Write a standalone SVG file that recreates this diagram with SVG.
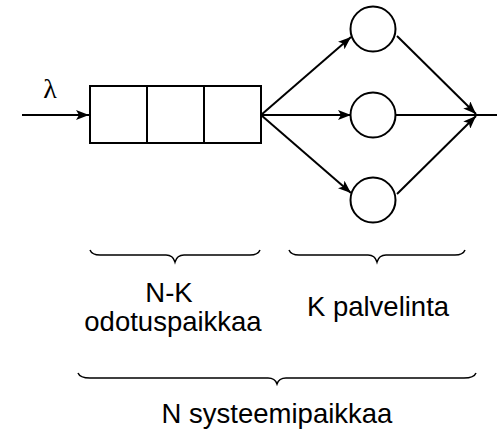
<svg xmlns="http://www.w3.org/2000/svg" width="497" height="433" viewBox="0 0 497 433">
<style>
.ln{stroke:#000;stroke-width:2;fill:none}
.br{stroke:#000;stroke-width:1.5;fill:none}
.box{stroke:#000;stroke-width:2;fill:#fff}
.t{font-family:"Liberation Sans",Arial,sans-serif;font-size:27.5px;fill:#000;text-anchor:middle}
.g{font-family:"Liberation Serif","Times New Roman",serif;font-size:28px;fill:#000;text-anchor:middle}
</style>
<defs>
<marker id="ah" viewBox="0 0 13 10" refX="13" refY="5" markerWidth="13" markerHeight="10" markerUnits="userSpaceOnUse" orient="auto">
<path d="M0,0 L13,5 L0,10 L3,5 Z" fill="#000"/>
</marker>
</defs>
<g id="connectors">
<line class="ln" x1="22" y1="115" x2="89" y2="115" marker-end="url(#ah)"/>
<line class="ln" x1="261" y1="115" x2="351" y2="37" marker-end="url(#ah)"/>
<line class="ln" x1="261" y1="115" x2="351" y2="115" marker-end="url(#ah)"/>
<line class="ln" x1="261" y1="115" x2="351" y2="193" marker-end="url(#ah)"/>
<line class="ln" x1="397" y1="36" x2="476" y2="114" marker-end="url(#ah)"/>
<line class="ln" x1="397" y1="194" x2="476" y2="116" marker-end="url(#ah)"/>
<line class="ln" x1="396" y1="115" x2="497" y2="115"/>
</g>
<g id="queue">
<rect class="box" x="90" y="86" width="171" height="57"/>
<line class="ln" x1="147" y1="86" x2="147" y2="143"/>
<line class="ln" x1="204" y1="86" x2="204" y2="143"/>
</g>
<g id="server1"><circle class="box" cx="373" cy="29" r="22.5"/></g>
<g id="server2"><circle class="box" cx="373" cy="115" r="22.5"/></g>
<g id="server3"><circle class="box" cx="373" cy="200" r="22.5"/></g>
<g id="lambda"><text class="g" x="50" y="98">λ</text></g>
<g id="brace1">
<path class="br" d="M90,250 Q92,255 100,255 L166,255 Q173,255 175,262 Q177,255 184,255 L250,255 Q258,255 260,250"/>
<text class="t" x="169" y="302">N-K</text>
<text class="t" x="173" y="331">odotuspaikkaa</text>
</g>
<g id="brace2">
<path class="br" d="M289,250 Q291,255 299,255 L368,255 Q375,255 377,262 Q379,255 386,255 L455,255 Q463,255 465,250"/>
<text class="t" x="378" y="316">K palvelinta</text>
</g>
<g id="brace3">
<path class="br" d="M78,373 Q80,378 90,378 L268,378 Q275,378 277,384 Q279,378 286,378 L464,378 Q474,378 476,373"/>
<text class="t" x="277" y="423">N systeemipaikkaa</text>
</g>
</svg>
